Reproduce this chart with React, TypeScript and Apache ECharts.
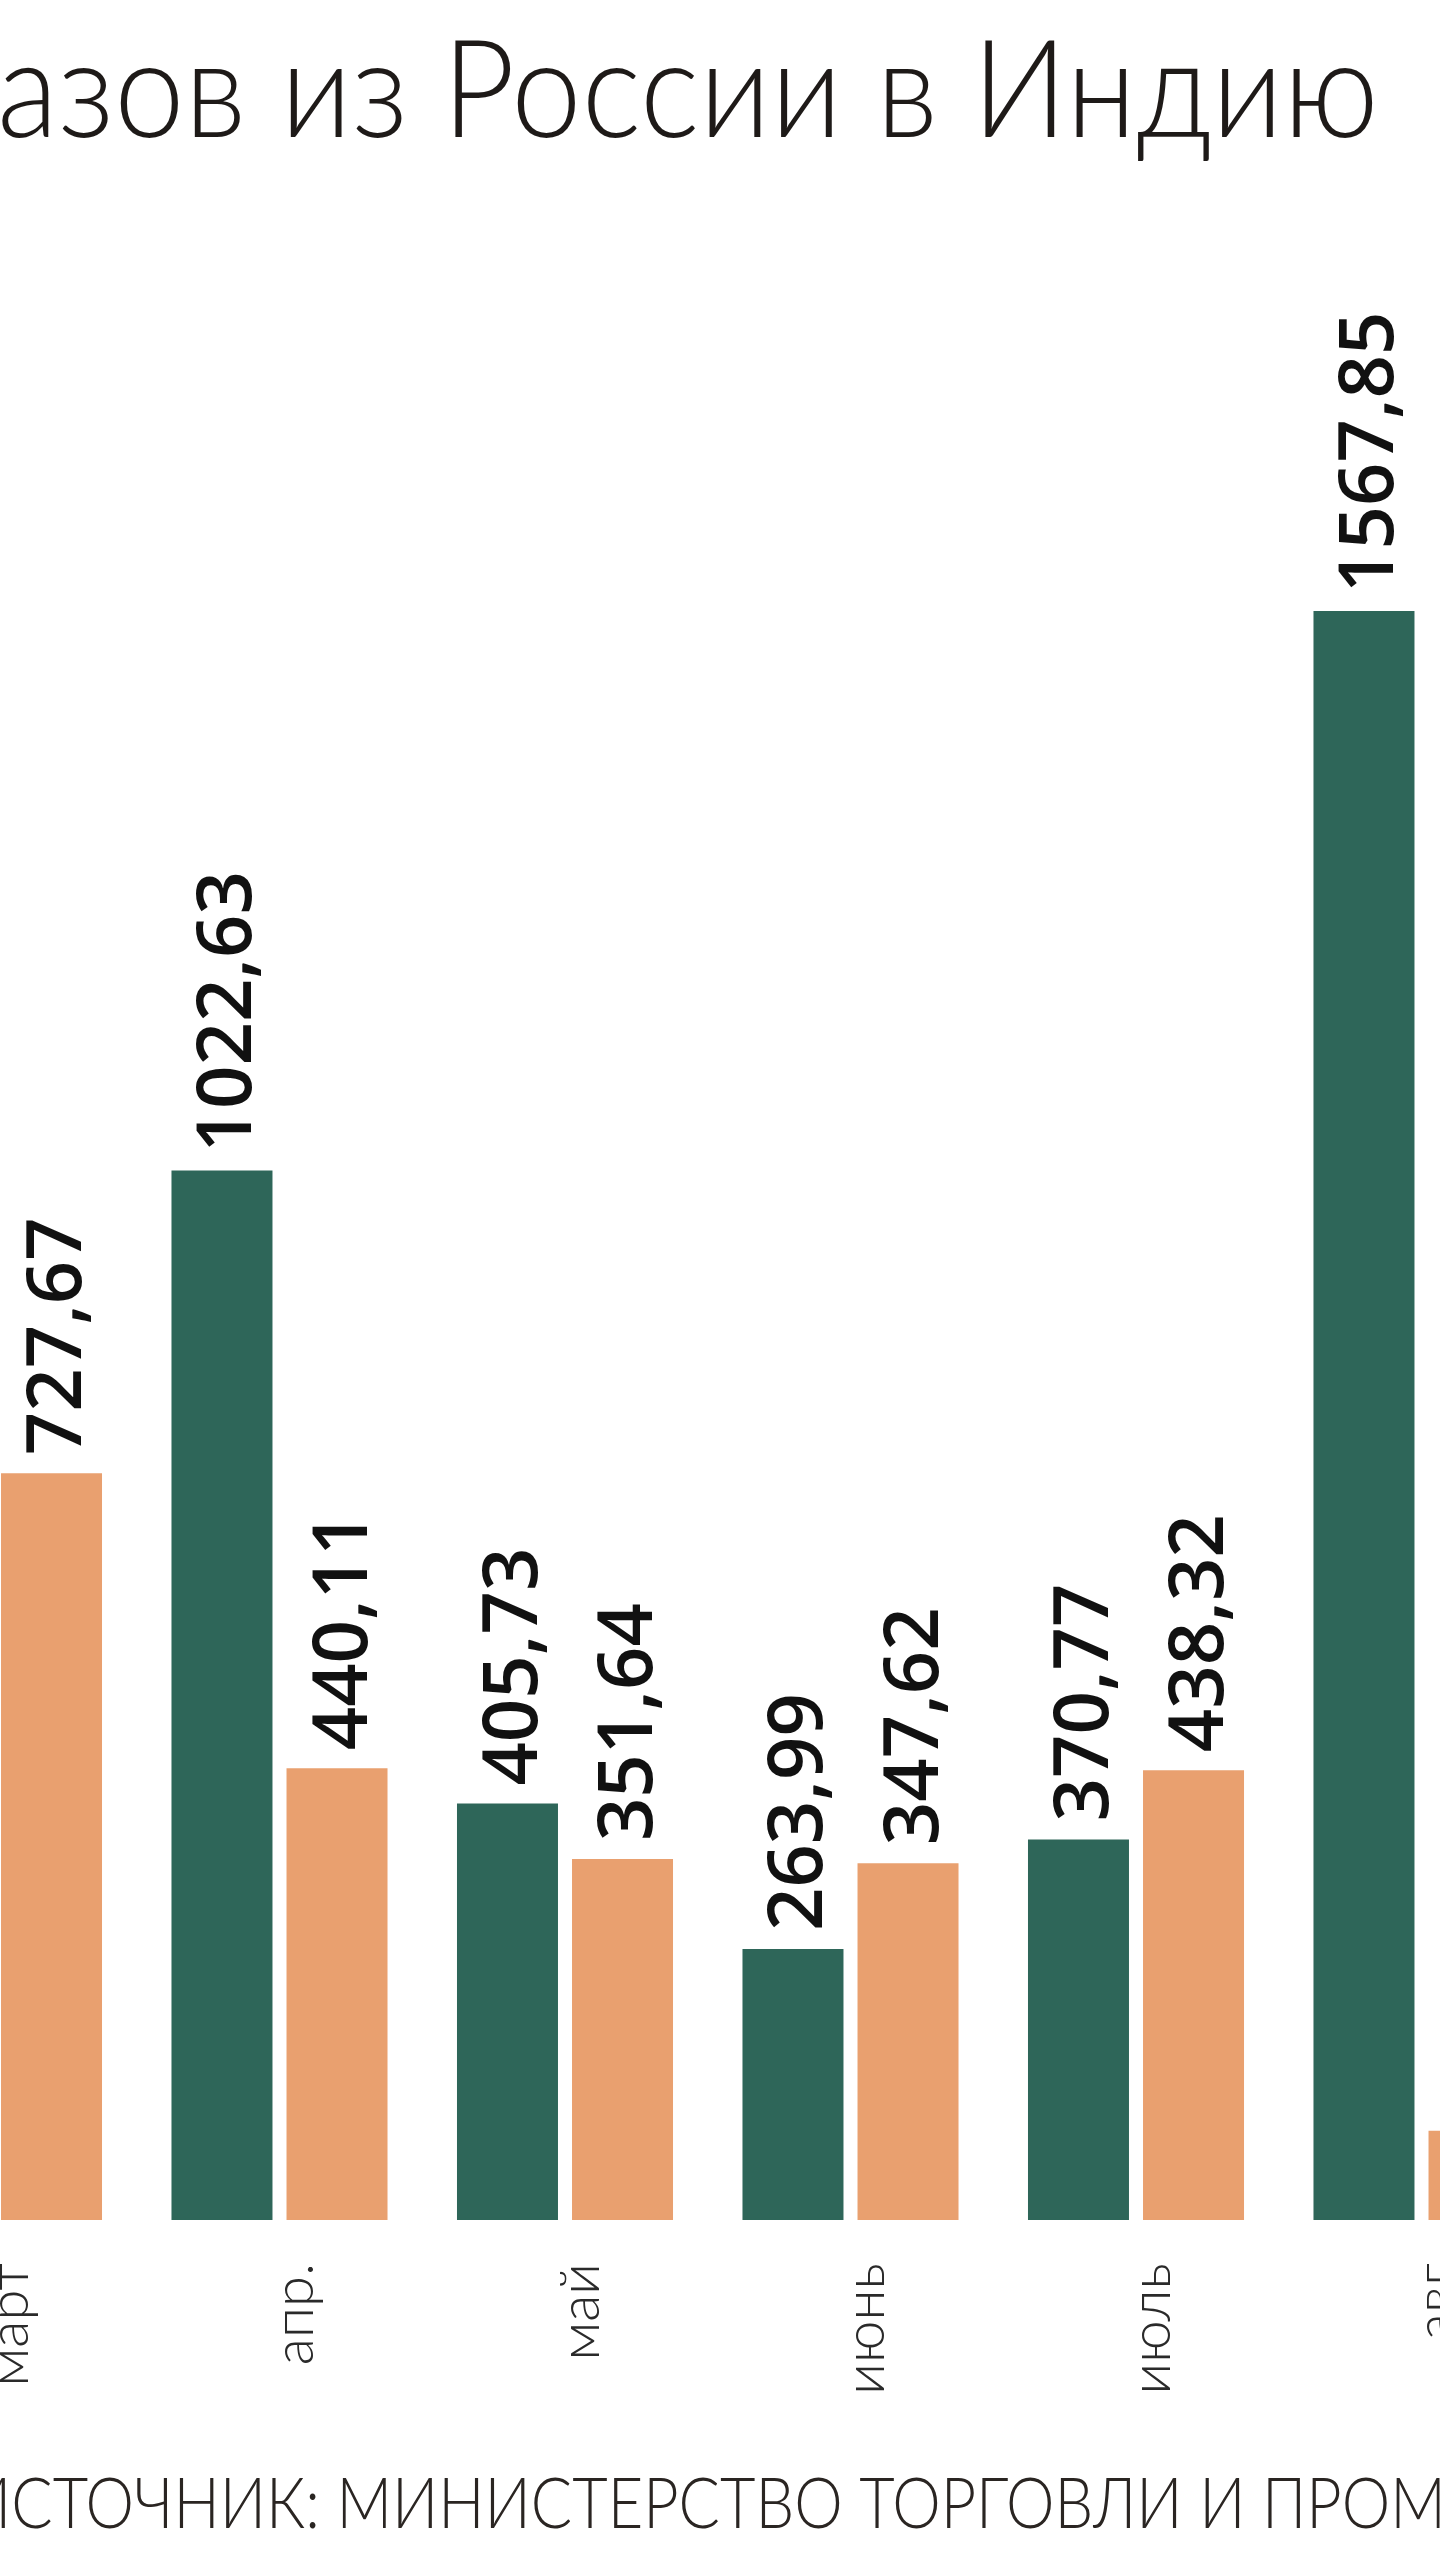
import React, { useEffect, useRef } from "react";
import * as echarts from "echarts";

const categories = ["март", "апр.", "май", "июнь", "июль", "авг"];
const seriesGreen: (number | null)[] = [null, 1022.63, 405.73, 263.99, 370.77, 1567.85];
const seriesOrange: number[] = [727.67, 440.11, 351.64, 347.62, 438.32, 87];
const titleText = "азов из России в Индию";
const sourceText = "ИСТОЧНИК: МИНИСТЕРСТВО ТОРГОВЛИ И ПРОМЫШЛЕННОСТИ";

const GREEN = "#2E6659";
const ORANGE = "#E9A06F";
const OFFSET = 300;

export default function App() {
  const ref = useRef<HTMLDivElement>(null);
  useEffect(() => {
    if (!ref.current) return;
    const chart = echarts.init(ref.current, null, { renderer: "svg" });
    const fmt = (p: any) =>
      p.value == null ? "" : Number(p.value).toFixed(2).replace(".", ",");
    const dataLabel = {
      show: true,
      position: "top",
      rotate: 90,
      align: "left",
      verticalAlign: "middle",
      distance: 18,
      fontSize: 76,
      fontFamily: "Open Sans",
      fontWeight: 600,
      color: "#111",
      formatter: fmt,
    };
    chart.setOption({
      animation: false,
      backgroundColor: "#ffffff",
      grid: { left: OFFSET - 148.75, width: 1713, top: 167.4, bottom: 340 },
      xAxis: {
        type: "category",
        data: categories,
        axisLine: { show: false },
        axisTick: { show: false },
        axisLabel: {
          rotate: 90,
          margin: 43,
          fontSize: 56,
          fontFamily: "Lato",
          fontWeight: 300,
          color: "#2a2a2a",
          verticalAlign: "top",
          lineHeight: 24,
        },
      },
      yAxis: {
        type: "value",
        min: 0,
        max: 2000,
        show: false,
        splitLine: { show: false },
      },
      series: [
        {
          name: "Ряд 1",
          type: "bar",
          data: seriesGreen,
          barWidth: 101,
          barGap: "13.9%",
          itemStyle: { color: GREEN },
          label: dataLabel,
        },
        {
          name: "Ряд 2",
          type: "bar",
          data: seriesOrange,
          barWidth: 101,
          barGap: "13.9%",
          itemStyle: { color: ORANGE },
          label: dataLabel,
        },
      ],
      graphic: [
        {
          type: "text",
          x: OFFSET - 3,
          y: 15,
          scaleX: 0.92,
          scaleY: 1,
          style: {
            text: titleText,
            fontSize: 137,
            fontFamily: "Lato",
            fontWeight: 300,
            fill: "#1e1a18",
            align: "left",
            verticalAlign: "top",
          },
        },
        {
          type: "text",
          x: OFFSET - 35,
          y: 2466,
          scaleX: 0.875,
          scaleY: 1,
          style: {
            text: sourceText,
            fontSize: 70,
            fontFamily: "Lato",
            fontWeight: 300,
            fill: "#2a2522",
            align: "left",
            verticalAlign: "top",
          },
        },
      ],
    });
    return () => chart.dispose();
  }, []);
  return (
    <div
      style={{
        position: "absolute",
        left: 0,
        top: 0,
        width: 1440,
        height: 2560,
        overflow: "hidden",
        background: "#fff",
      }}
    >
      <div
        ref={ref}
        style={{ position: "absolute", left: -OFFSET, top: 0, width: 1440 + 2 * OFFSET, height: 2560 }}
      />
    </div>
  );
}
